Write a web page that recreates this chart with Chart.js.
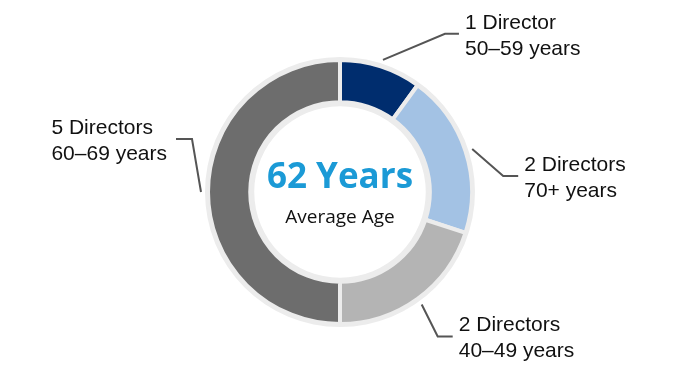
<!DOCTYPE html>
<html>
<head>
<meta charset="utf-8">
<script src="https://cdn.jsdelivr.net/npm/chart.js@4"></script>
<style>
  html, body { margin: 0; padding: 0; background: #ffffff; }
  #wrap { width: 680px; height: 384px; position: relative; }
</style>
</head>
<body>
<div id="wrap"><canvas id="c" width="680" height="384"></canvas></div>
<script>
// ---- data ----
const categories = ["50–59 years", "70+ years", "40–49 years", "60–69 years"];
const directorCounts = [1, 2, 2, 5];
const countLabels = ["1 Director", "2 Directors", "2 Directors", "5 Directors"];
const centerValue = "62 Years";
const centerCaption = "Average Age";

// ---- styles ----
const sliceColors = ["#002d6e", "#a3c2e4", "#b4b4b4", "#6d6d6d"];
const ringColor = "#ececec";
// leader layout per slice: [dx, dy] from start to elbow, horizontal run (signed)
const leaderLayout = [
  { dx: 62, dy: -26, run: 14 },
  { dx: 31, dy: 27, run: 15 },
  { dx: 16, dy: 32, run: 15 },
  { dx: -9, dy: -53, run: -16 }
];

const ringPlugin = {
  id: 'ringPlugin',
  beforeDatasetsDraw(chart) {
    const meta = chart.getDatasetMeta(0);
    const a = meta.data[0];
    if (!a) return;
    const p = a.getProps(['x', 'y', 'innerRadius', 'outerRadius'], true);
    const ctx = chart.ctx;
    ctx.save();
    ctx.beginPath();
    ctx.arc(p.x, p.y, p.outerRadius + 3, 0, Math.PI * 2);
    ctx.arc(p.x, p.y, p.innerRadius - 4, 0, Math.PI * 2, true);
    ctx.fillStyle = ringColor;
    ctx.fill('evenodd');
    ctx.restore();
  },
  afterDatasetsDraw(chart) {
    const meta = chart.getDatasetMeta(0);
    const ctx = chart.ctx;
    let cx = 0, cy = 0;
    meta.data.forEach((arc, i) => {
      const p = arc.getProps(['x', 'y', 'startAngle', 'endAngle', 'outerRadius'], true);
      cx = p.x; cy = p.y;
      const mid = (p.startAngle + p.endAngle) / 2;
      const r = p.outerRadius + 7;
      const sx = p.x + Math.cos(mid) * r;
      const sy = p.y + Math.sin(mid) * r;
      const L = leaderLayout[i];
      const ex = sx + L.dx, ey = sy + L.dy;
      const hx = ex + L.run;
      ctx.save();
      ctx.strokeStyle = "#555555";
      ctx.lineWidth = 2;
      ctx.beginPath();
      ctx.moveTo(sx, sy);
      ctx.lineTo(ex, ey);
      ctx.lineTo(hx, ey);
      ctx.stroke();
      ctx.font = "21px 'Liberation Sans', Arial, sans-serif";
      ctx.fillStyle = "#111111";
      ctx.textBaseline = "middle";
      const l1 = countLabels[i], l2 = categories[i];
      let tx;
      if (L.run >= 0) {
        tx = hx + 6;
      } else {
        const w = Math.max(ctx.measureText(l1).width, ctx.measureText(l2).width);
        tx = hx - 9 - w;
      }
      ctx.textAlign = "left";
      ctx.fillText(l1, tx, ey - 11);
      ctx.fillText(l2, tx, ey + 15);
      ctx.restore();
    });
    // center text
    ctx.save();
    ctx.textAlign = "center";
    ctx.textBaseline = "middle";
    ctx.fillStyle = "#1b9ad6";
    ctx.font = "bold 35px 'Open Sans', sans-serif";
    ctx.fillText(centerValue, cx, cy - 14);
    ctx.fillStyle = "#111111";
    ctx.font = "19px 'Open Sans', sans-serif";
    ctx.fillText(centerCaption, cx, cy + 26);
    ctx.restore();
  }
};

new Chart(document.getElementById('c'), {
  type: 'doughnut',
  data: {
    labels: categories,
    datasets: [{
      data: directorCounts,
      backgroundColor: sliceColors,
      borderColor: ringColor,
      borderWidth: 4,
      hoverOffset: 0
    }]
  },
  options: {
    responsive: false,
    animation: false,
    cutout: '68%',
    layout: { padding: { top: 58, bottom: 58, left: 0, right: 0 } },
    plugins: { legend: { display: false }, tooltip: { enabled: false } },
    events: []
  },
  plugins: [ringPlugin]
});
</script>
</body>
</html>
